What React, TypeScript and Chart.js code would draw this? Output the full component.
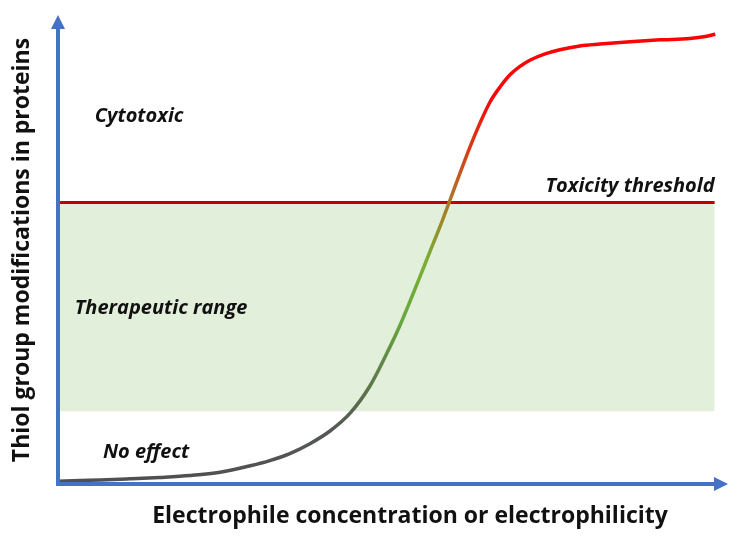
import { useEffect, useRef } from "react";
import { Chart, registerables } from "chart.js";

Chart.register(...registerables);

// dose-response curve, x = electrophile level, y = thiol modification (arbitrary 0-100)
const curveX = [0, 3.3, 6.3, 10.7, 15.2, 19.7, 24.2, 28.7, 31.6, 34.6, 37.6, 40.6, 43.6, 46.6, 49.6, 51.0, 52.5, 54.0, 55.5, 57.0, 58.5, 60.0, 61.5, 63.0, 64.5, 66.0, 67.5, 69.0, 70.5, 72.7, 74.9, 77.9, 80.9, 85.4, 89.9, 94.3, 96.6, 98.1];
const curveY = [0.6, 0.75, 0.85, 1.1, 1.4, 1.8, 2.5, 3.9, 5.0, 6.5, 8.6, 11.3, 15.1, 21.0, 29.4, 33.7, 38.8, 44.1, 49.5, 54.8, 60.5, 66.3, 71.9, 77.0, 81.5, 84.7, 87.3, 89.1, 90.4, 91.7, 92.6, 93.4, 93.8, 94.3, 94.7, 95.0, 95.4, 95.9];

const thresholdY = 60;
const bandLow = 15.5;
const spanX = [0, 98];

const regionLabels = ["Cytotoxic", "Therapeutic range", "No effect", "Toxicity threshold"];
const regionX = [5.5, 2.5, 6.7, 98];
const regionY = [78.5, 37.5, 6.8, 63.5];
const xTitle = "Electrophile concentration or electrophilicity";
const yTitle = "Thiol group modifications in proteins";

const AXIS = "#4472c4";

export default function App() {
  const chartRef = useRef<HTMLCanvasElement>(null);
  const chartInstance = useRef<Chart | null>(null);

  useEffect(() => {
    document.body.style.margin = "0";
    if (!chartRef.current) return;
    const ctx = chartRef.current.getContext("2d");
    if (!ctx) return;
    if (chartInstance.current) chartInstance.current.destroy();

    const decorations = {
      id: "decorations",
      afterDatasetsDraw(chart: any) {
        const { ctx, scales } = chart;
        const x = scales.x;
        const y = scales.y;
        const x0 = x.getPixelForValue(0);
        const y0 = y.getPixelForValue(0);
        const xEnd = x.getPixelForValue(100);
        const yEnd = y.getPixelForValue(100);
        ctx.save();
        // axes
        ctx.strokeStyle = AXIS;
        ctx.fillStyle = AXIS;
        ctx.lineWidth = 4;
        ctx.beginPath();
        ctx.moveTo(x0, y0 + 2);
        ctx.lineTo(x0, yEnd + 12);
        ctx.moveTo(x0 - 2, y0);
        ctx.lineTo(xEnd - 12, y0);
        ctx.stroke();
        ctx.beginPath();
        ctx.moveTo(x0, yEnd);
        ctx.lineTo(x0 - 7, yEnd + 14);
        ctx.lineTo(x0 + 7, yEnd + 14);
        ctx.closePath();
        ctx.fill();
        ctx.beginPath();
        ctx.moveTo(xEnd, y0);
        ctx.lineTo(xEnd - 14, y0 - 7);
        ctx.lineTo(xEnd - 14, y0 + 7);
        ctx.closePath();
        ctx.fill();

        // region labels
        ctx.fillStyle = "#111";
        ctx.font = "italic bold 20px 'Open Sans', sans-serif";
        ctx.textBaseline = "middle";
        regionLabels.forEach((t, i) => {
          ctx.textAlign = i === 3 ? "right" : "left";
          ctx.fillText(t, x.getPixelForValue(regionX[i]), y.getPixelForValue(regionY[i]));
        });

        // axis titles
        ctx.font = "bold 23px 'Open Sans', sans-serif";
        ctx.textAlign = "center";
        ctx.fillText(xTitle, 410, 516);
        ctx.translate(22, 250);
        ctx.rotate(-Math.PI / 2);
        ctx.fillText(yTitle, 0, 0);
        ctx.restore();
      },
    };

    chartInstance.current = new Chart(ctx, {
      type: "line",
      data: {
        datasets: [
          {
            label: "curve",
            data: curveX.map((v, i) => ({ x: v, y: curveY[i] })),
            borderWidth: 3.5,
            cubicInterpolationMode: "monotone",
            pointRadius: 0,
            fill: false,
            borderColor: (c: any) => {
              const chart = c.chart;
              if (!chart.chartArea) return "#555";
              const ys = chart.scales.y;
              const g = chart.ctx.createLinearGradient(0, ys.getPixelForValue(0), 0, ys.getPixelForValue(100));
              g.addColorStop(0, "#4f4f4f");
              g.addColorStop(0.12, "#555a55");
              g.addColorStop(0.22, "#5e7a4a");
              g.addColorStop(0.35, "#68a83c");
              g.addColorStop(0.47, "#78b035");
              g.addColorStop(0.56, "#9a8a2a");
              g.addColorStop(0.63, "#b86a22");
              g.addColorStop(0.72, "#d83a15");
              g.addColorStop(0.82, "#f20a0a");
              g.addColorStop(1, "#ff0000");
              return g;
            },
          },
          {
            label: "threshold",
            data: spanX.map((v) => ({ x: v, y: thresholdY })),
            borderColor: "#c00000",
            borderWidth: 3,
            pointRadius: 0,
            fill: false,
          },
          {
            label: "band",
            data: spanX.map((v) => ({ x: v, y: thresholdY })),
            borderWidth: 0,
            pointRadius: 0,
            backgroundColor: "#e2efda",
            fill: { value: bandLow },
          },
        ],
      },
      options: {
        animation: false,
        responsive: true,
        maintainAspectRatio: false,
        layout: { padding: { left: 58, right: 10, top: 15, bottom: 53 } },
        plugins: { legend: { display: false }, tooltip: { enabled: false } },
        scales: {
          x: { type: "linear", min: 0, max: 100, display: false },
          y: { min: 0, max: 100, display: false },
        },
      },
      plugins: [decorations],
    });

    return () => {
      if (chartInstance.current) {
        chartInstance.current.destroy();
        chartInstance.current = null;
      }
    };
  }, []);

  return (
    <div style={{ width: 738, height: 537, background: "#fff" }}>
      <canvas ref={chartRef}></canvas>
    </div>
  );
}
